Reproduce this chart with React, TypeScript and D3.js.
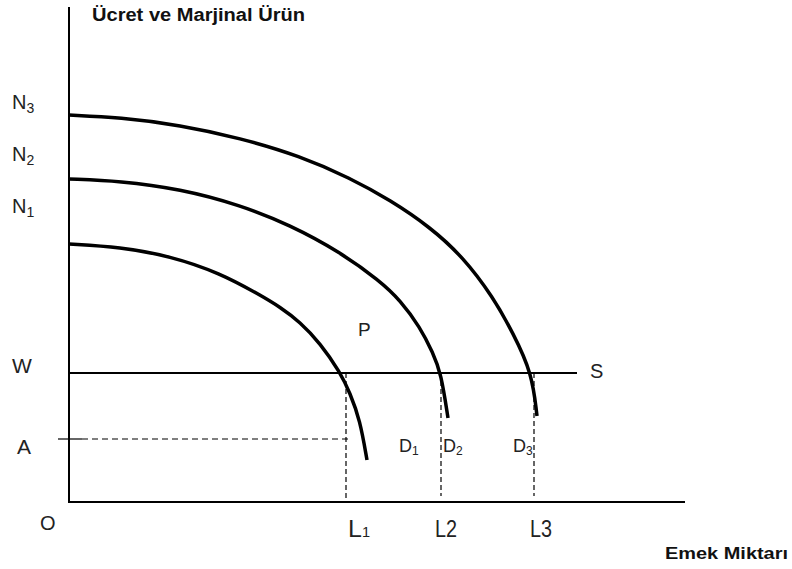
import React from "react";
import * as d3 from "d3";

// Data (units: labour along x, wage / marginal product along y)
const curveN3: [number, number][] = [
  [0, 387], [51, 384.5], [111, 377], [171, 364], [231, 346], [281, 324], [321, 302],
  [361, 275], [394, 245], [424, 205], [444, 169], [463, 129], [468, 86],
];
const curveN2: [number, number][] = [
  [0, 323], [51, 321], [111, 313], [171, 297], [221, 277], [271, 250], [311, 221],
  [331, 202], [351, 175], [364, 149], [372, 129], [379, 84],
];
const curveN1: [number, number][] = [
  [0, 258], [51, 255], [101, 246], [151, 229], [191, 207], [211, 195], [231, 180],
  [251, 159], [271, 130], [281, 109], [291, 82], [298, 42],
];
const curves = [curveN1, curveN2, curveN3];

const wageW = 129; // W level (supply line S)
const supplyEnd = 508;
const levelA = 63;
const levelAEnd = 280;
const labourL = [277, 372, 465]; // L1, L2, L3
const labourLBottom = [0, 6, 6];

const xMax = 616;
const yMax = 495;

const W = 792;
const H = 569;

export default function App() {
  const x = d3.scaleLinear().domain([0, xMax]).range([69, 685]);
  const y = d3.scaleLinear().domain([0, yMax]).range([502, 7]);
  const line = d3
    .line<[number, number]>()
    .x((d) => x(d[0]))
    .y((d) => y(d[1]))
    .curve(d3.curveBasis);

  const font = "'Liberation Sans', Arial, sans-serif";

  return (
    <svg
      width={W}
      height={H}
      style={{ position: "absolute", left: 0, top: 0, background: "#fff" }}
    >
      <rect width={W} height={H} fill="#fff" />
      {/* axes */}
      <line x1={x(0)} y1={y(yMax)} x2={x(0)} y2={y(0)} stroke="#000" strokeWidth={2} />
      <line x1={x(0) - 1} y1={y(0)} x2={x(xMax)} y2={y(0)} stroke="#000" strokeWidth={2} />

      {/* supply line W-S */}
      <line x1={x(0)} y1={y(wageW)} x2={x(supplyEnd)} y2={y(wageW)} stroke="#000" strokeWidth={2} />

      {/* A level: tick + dashed */}
      <line x1={x(-11)} y1={y(levelA)} x2={x(13)} y2={y(levelA)} stroke="#000" strokeWidth={1.2} />
      <line
        x1={x(13)}
        y1={y(levelA)}
        x2={x(levelAEnd)}
        y2={y(levelA)}
        stroke="#000"
        strokeWidth={1.2}
        strokeDasharray="6,4"
      />

      {/* dashed verticals */}
      {labourL.map((l, i) => (
        <line
          key={i}
          x1={x(l)}
          y1={y(wageW)}
          x2={x(l)}
          y2={y(labourLBottom[i])}
          stroke="#000"
          strokeWidth={1.2}
          strokeDasharray="5,3"
        />
      ))}

      {/* demand / marginal product curves */}
      {curves.map((c, i) => (
        <path key={i} d={line(c) || ""} fill="none" stroke="#000" strokeWidth={3.5} />
      ))}

      {/* titles */}
      <text
        x={92}
        y={21}
        fontFamily={font}
        fontWeight="bold"
        fontSize={18}
        textLength={213}
        lengthAdjust="spacingAndGlyphs"
        fill="#111"
      >
        Ücret ve Marjinal Ürün
      </text>
      <text
        x={665}
        y={559}
        fontFamily={font}
        fontWeight="bold"
        fontSize={17}
        textLength={123}
        lengthAdjust="spacingAndGlyphs"
        fill="#111"
      >
        Emek Miktarı
      </text>

      {/* y labels */}
      {[
        { t: "3", by: 109 },
        { t: "2", by: 161 },
        { t: "1", by: 213 },
      ].map((d) => (
        <text key={d.t} x={12} y={d.by} fontFamily={font} fontSize={20} fill="#222">
          N
          <tspan fontSize={14} dy={4}>
            {d.t}
          </tspan>
        </text>
      ))}
      <text x={12} y={373} fontFamily={font} fontSize={21} fill="#222">
        W
      </text>
      <text x={17} y={454} fontFamily={font} fontSize={21} fill="#222">
        A
      </text>
      <text x={40} y={530} fontFamily={font} fontSize={20} fill="#222">
        O
      </text>
      <text x={358} y={336} fontFamily={font} fontSize={19} fill="#222">
        P
      </text>
      <text x={590} y={378} fontFamily={font} fontSize={20} fill="#222">
        S
      </text>

      {/* D labels */}
      {[
        { t: "1", x: 399 },
        { t: "2", x: 443 },
        { t: "3", x: 513 },
      ].map((d) => (
        <text key={d.t} x={d.x} y={452} fontFamily={font} fontSize={18} fill="#222">
          D
          <tspan fontSize={12} dy={3}>
            {d.t}
          </tspan>
        </text>
      ))}

      {/* L labels (narrow) */}
      <text x={348} y={537} fontFamily={font} fontSize={24} fill="#222" textLength={22} lengthAdjust="spacingAndGlyphs">
        L<tspan fontSize={14}>1</tspan>
      </text>
      <text x={435} y={537} fontFamily={font} fontSize={24} fill="#222" textLength={22} lengthAdjust="spacingAndGlyphs">
        L2
      </text>
      <text x={530} y={537} fontFamily={font} fontSize={24} fill="#222" textLength={22} lengthAdjust="spacingAndGlyphs">
        L3
      </text>
    </svg>
  );
}
